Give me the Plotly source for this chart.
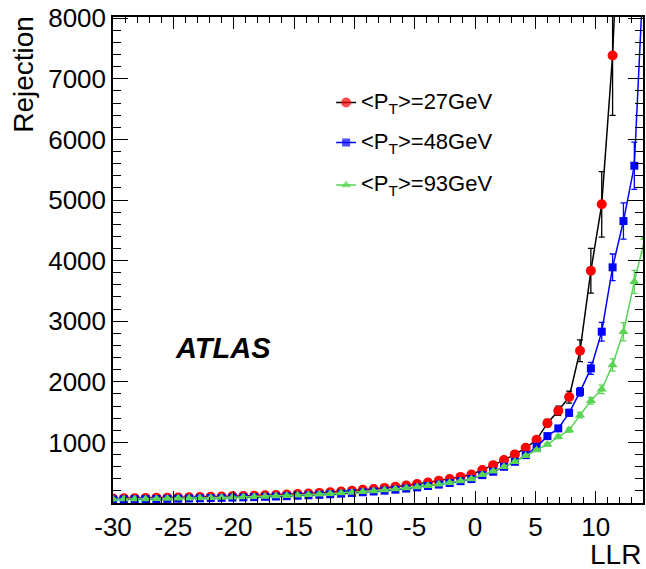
import plotly.graph_objects as go

# LLR bin centres
llr = [-30.0, -29.1, -28.2, -27.3, -26.4, -25.5, -24.6, -23.7, -22.8, -21.9,
       -21.0, -20.1, -19.2, -18.3, -17.4, -16.5, -15.6, -14.7, -13.8, -12.9,
       -12.0, -11.1, -10.2, -9.3, -8.4, -7.5, -6.6, -5.7, -4.8, -3.9,
       -3.0, -2.1, -1.2, -0.3, 0.6, 1.5, 2.4, 3.3, 4.2, 5.1,
       6.0, 6.9, 7.8, 8.7, 9.6, 10.5, 11.4, 12.3, 13.2, 14.1]

# light-jet rejection, <pT> = 27 GeV
rej_27 = [75, 77, 79, 82, 85, 88, 92, 95, 99, 103,
          107, 111, 116, 121, 127, 133, 140, 148, 157, 167,
          178, 190, 203, 217, 232, 249, 268, 289, 312, 338,
          366, 397, 431, 470, 543, 625, 708, 802, 911, 1043,
          1318, 1522, 1748, 2512, 3832, 4929, 7386, 11500]
err_27 = [2, 2, 2, 2, 2, 3, 3, 3, 3, 3,
          3, 3, 4, 4, 4, 4, 5, 5, 5, 6,
          6, 7, 7, 8, 8, 9, 10, 11, 12, 13,
          14, 16, 18, 20, 23, 27, 31, 36, 42, 50,
          60, 75, 99, 179, 370, 540, 990, 1800]

# <pT> = 48 GeV
rej_48 = [58, 60, 62, 64, 66, 69, 72, 75, 78, 81,
          85, 89, 93, 97, 102, 107, 113, 120, 127, 135,
          144, 154, 165, 177, 190, 204, 220, 238, 258, 280,
          304, 330, 360, 395, 460, 516, 598, 680, 790, 927,
          1104, 1231, 1488, 1835, 2221, 2827, 3889, 4653, 5565, 9350]
err_48 = [2, 2, 2, 2, 2, 2, 2, 2, 3, 3,
          3, 3, 3, 3, 3, 4, 4, 4, 4, 4,
          5, 5, 5, 6, 6, 6, 7, 7, 8, 9,
          9, 10, 11, 12, 14, 15, 17, 19, 22, 25,
          30, 40, 55, 70, 100, 155, 220, 300, 390, 600]

# <pT> = 93 GeV
rej_93 = [62, 64, 66, 68, 71, 74, 77, 80, 83, 87,
          91, 95, 99, 104, 109, 115, 121, 128, 136, 144,
          153, 163, 174, 186, 199, 213, 229, 246, 265, 286,
          309, 335, 364, 398, 465, 525, 600, 680, 780, 873,
          967, 1092, 1203, 1450, 1688, 1876, 2277, 2825, 3650, 4380]
err_93 = [2, 2, 2, 2, 2, 2, 2, 2, 2, 3,
          3, 3, 3, 3, 3, 3, 4, 4, 4, 4,
          4, 5, 5, 5, 6, 6, 6, 7, 7, 8,
          8, 9, 10, 11, 12, 13, 14, 15, 16, 18,
          22, 28, 35, 45, 55, 70, 100, 150, 190, 250]

x_ticks = [-30, -25, -20, -15, -10, -5, 0, 5, 10]
x_ticktext = ["-30", "-25", "-20", "-15", "-10", "-5", "0", "5", "10"]
y_ticks = [1000, 2000, 3000, 4000, 5000, 6000, 7000, 8000]

labels = ["&lt;P<sub>T</sub>&gt;=27GeV",
          "&lt;P<sub>T</sub>&gt;=48GeV",
          "&lt;P<sub>T</sub>&gt;=93GeV"]

styles = [
    dict(symbol="circle", size=10, mcolor="#ff0000", lcolor="#000000"),
    dict(symbol="square", size=8, mcolor="#0000ff", lcolor="#0000ff"),
    dict(symbol="triangle-up", size=9, mcolor="#59d454", lcolor="#59d454"),
]
datasets = [(rej_27, err_27), (rej_48, err_48), (rej_93, err_93)]

FONT = "Liberation Sans, Arial, Helvetica, sans-serif"
W, H = 646, 569
ML, MR, MT, MB = 113, 1, 17, 66
PW, PH = W - ML - MR, H - MT - MB


def px_x(px):
    return (px - ML) / PW


def px_y(py):
    return (H - MB - py) / PH


fig = go.Figure()

for (vals, errs), st in zip(datasets, styles):
    n = len(vals)
    fig.add_trace(go.Scatter(
        x=llr[:n], y=vals, mode="lines+markers",
        line=dict(color=st["lcolor"], width=1.5),
        marker=dict(symbol=st["symbol"], size=st["size"], color=st["mcolor"],
                    line=dict(width=0)),
        error_y=dict(type="data", array=errs, color=st["lcolor"],
                     thickness=1.3, width=3),
        showlegend=False, hoverinfo="x+y",
    ))

# hand-placed legend drawn on an overlay axis spanning the plot area
leg_rows = [102.5, 142.5, 185.0]
for label, st, row in zip(labels, styles, leg_rows):
    yy = px_y(row)
    fig.add_trace(go.Scatter(
        x=[px_x(337), px_x(347), px_x(357)], y=[yy, yy, yy],
        xaxis="x2", yaxis="y2", mode="lines+markers",
        line=dict(color=st["lcolor"], width=1.5),
        marker=dict(symbol=st["symbol"], size=[0, st["size"], 0],
                    color=st["mcolor"], line=dict(width=0)),
        showlegend=False, hoverinfo="skip",
    ))
    fig.add_annotation(
        x=px_x(360), y=yy, xref="paper", yref="paper",
        text=label, showarrow=False, xanchor="left", yanchor="middle",
        font=dict(family=FONT, size=22, color="black"),
    )

fig.add_annotation(
    x=px_x(23), y=px_y(14), xref="paper", yref="paper",
    text="Rejection", textangle=-90, showarrow=False,
    xanchor="center", yanchor="top",
    font=dict(family=FONT, size=28, color="black"),
)
fig.add_annotation(
    x=px_x(645), y=px_y(554), xref="paper", yref="paper",
    text="LLR", showarrow=False, xanchor="right", yanchor="middle",
    font=dict(family=FONT, size=28, color="black"),
)
fig.add_annotation(
    x=px_x(173), y=px_y(348), xref="paper", yref="paper",
    text="<b><i>ATLAS</i></b>", showarrow=False,
    xanchor="left", yanchor="middle",
    font=dict(family=FONT, size=29, color="black"),
)

axis_common = dict(
    showgrid=False, zeroline=False, showline=True, mirror="ticks",
    linecolor="black", linewidth=1.5, ticks="inside", tickcolor="black",
    tickwidth=1.2, tickfont=dict(family=FONT, size=26, color="black"),
)

fig.update_layout(
    width=W, height=H,
    margin=dict(l=ML, r=MR, t=MT, b=MB, pad=0),
    paper_bgcolor="white", plot_bgcolor="white",
    showlegend=False,
    xaxis=dict(
        range=[-30, 13.92], tickmode="array", tickvals=x_ticks,
        ticktext=x_ticktext, ticklen=12,
        minor=dict(dtick=1, tick0=0, ticklen=6, ticks="inside",
                   tickcolor="black", tickwidth=1.2),
        **axis_common,
    ),
    yaxis=dict(
        range=[0, 8020], tickmode="array", tickvals=y_ticks, ticklen=15,
        minor=dict(dtick=200, tick0=0, ticklen=8, ticks="inside",
                   tickcolor="black", tickwidth=1.2),
        **axis_common,
    ),
    xaxis2=dict(overlaying="x", range=[0, 1], visible=False),
    yaxis2=dict(overlaying="y", range=[0, 1], visible=False),
)

fig.write_html("out.html")
